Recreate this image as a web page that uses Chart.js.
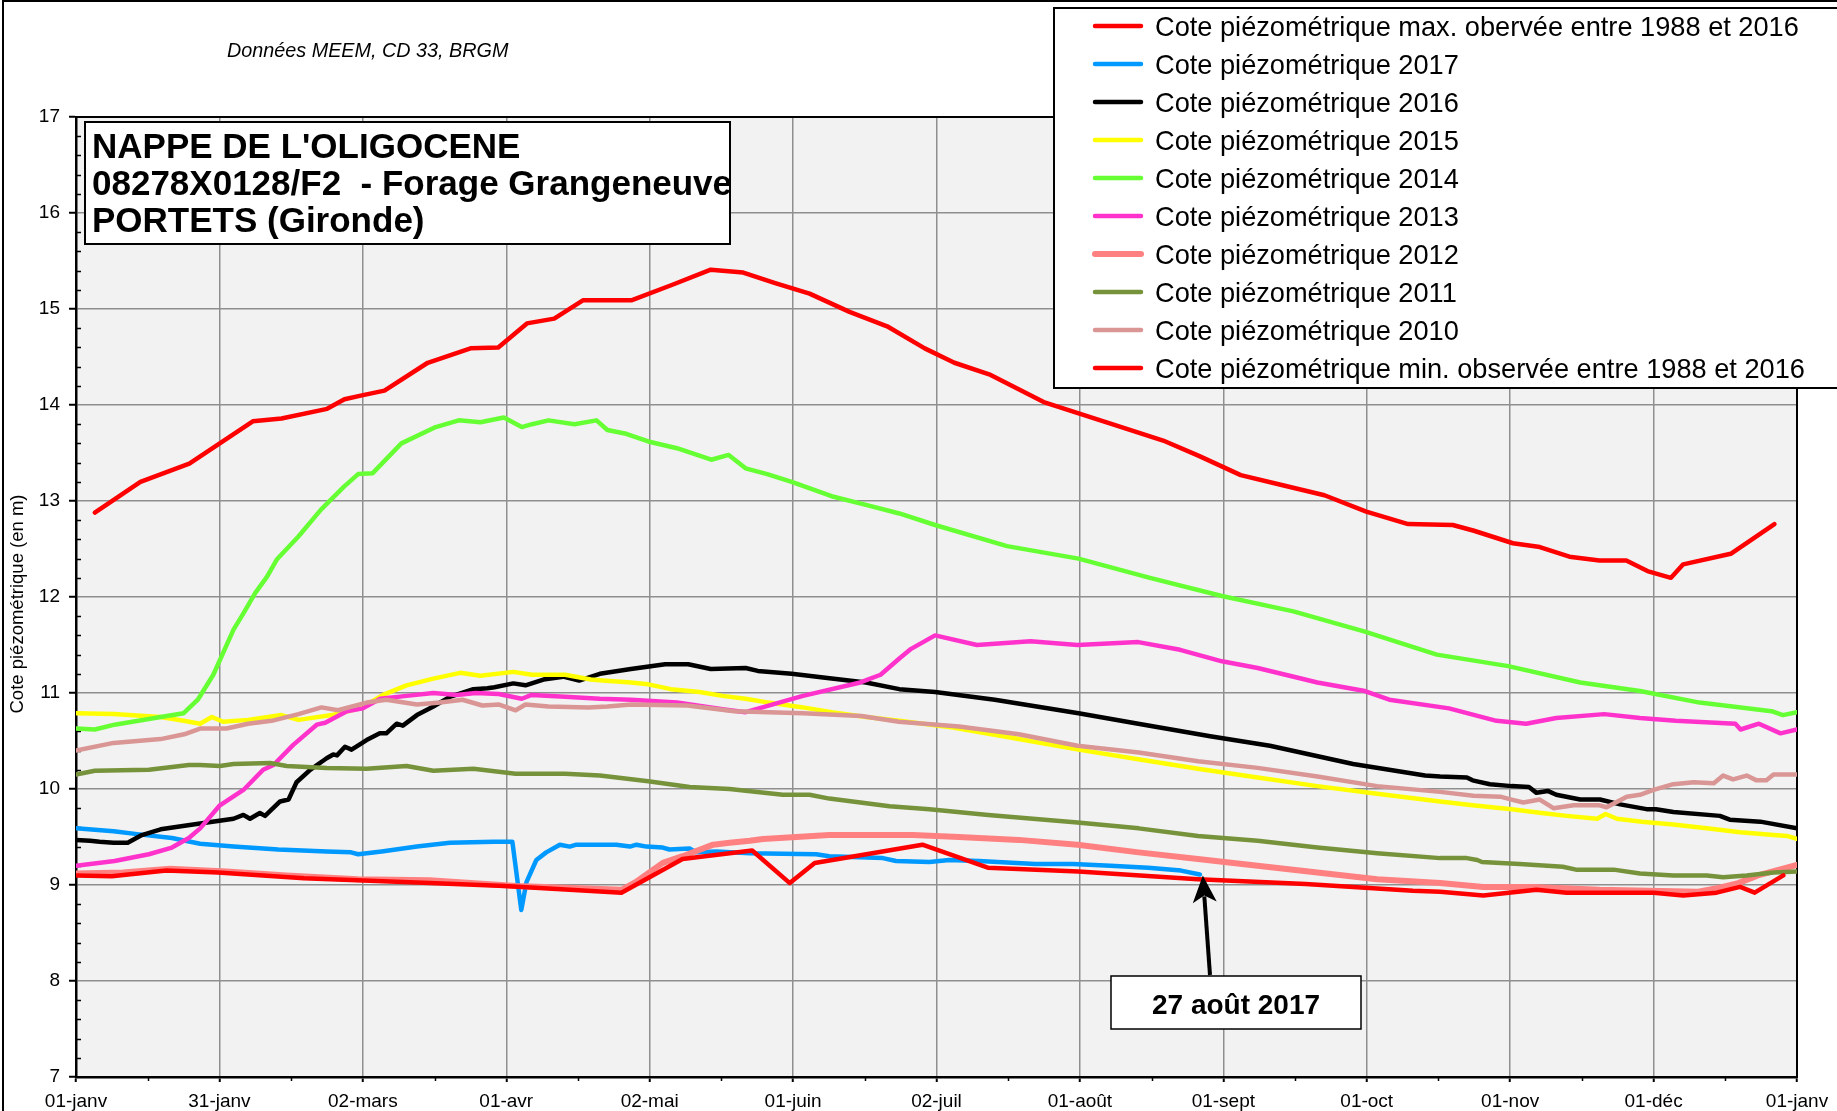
<!DOCTYPE html>
<html lang="fr">
<head>
<meta charset="utf-8">
<title>Nappe de l'Oligocène - Portets</title>
<script src="https://cdn.jsdelivr.net/npm/chart.js@4.4.1/dist/chart.umd.min.js"></script>
<style>
	html, body { margin: 0; padding: 0; background: #fff; }
	#chart { display: block; }
</style>
</head>
<body>
<canvas id="chart" width="1837" height="1111"></canvas>
<script>
// x axis = day of year (0 = 01-janv, 366 = next 01-janv), one tick every 30.5 days
const xTickLabels = ['01-janv', '31-janv', '02-mars', '01-avr', '02-mai', '01-juin', '02-juil', '01-août', '01-sept', '01-oct', '01-nov', '01-déc', '01-janv'];

// values (cote in m)
const joursMax = [4, 13.7, 24.1, 37.6, 43.7, 53.4, 57.1, 60.8, 65.6, 74.8, 83.9, 89.8, 95.9, 101.7, 107.8, 118.1, 126.7, 135, 141.9, 148.7, 156, 164.5, 172.5, 180.5, 186.8, 194.2, 205.8, 213.4, 221, 231.2, 238.8, 247.7, 255.3, 265.5, 274.4, 283.3, 292.8, 297.3, 305.6, 311.3, 317.6, 324, 329.7, 334.2, 339.2, 341.8, 351.9, 361.2];
const coteMax = [12.88, 13.20, 13.39, 13.83, 13.86, 13.96, 14.06, 14.10, 14.15, 14.44, 14.59, 14.60, 14.85, 14.90, 15.09, 15.09, 15.25, 15.41, 15.38, 15.27, 15.16, 14.97, 14.82, 14.59, 14.44, 14.32, 14.03, 13.91, 13.79, 13.63, 13.47, 13.27, 13.18, 13.06, 12.89, 12.76, 12.75, 12.69, 12.56, 12.52, 12.42, 12.38, 12.38, 12.27, 12.20, 12.34, 12.45, 12.76];

const jours2017 = [0, 8, 13, 20.4, 26.4, 33.5, 43, 53.3, 58.5, 60, 65, 72.5, 79.5, 88.9, 92.8, 94.7, 95.8, 97.9, 100, 102.9, 105, 106.4, 114.9, 117.8, 119.2, 121.3, 124.8, 126.2, 130.5, 131.9, 136.2, 143.3, 157.4, 160.2, 171.6, 174.4, 181.5, 185.7, 192, 204, 212, 220, 228, 235, 239];
const cote2017 = [9.59, 9.56, 9.53, 9.49, 9.43, 9.40, 9.37, 9.35, 9.34, 9.32, 9.35, 9.40, 9.44, 9.45, 9.45, 8.74, 9.03, 9.26, 9.34, 9.42, 9.40, 9.42, 9.42, 9.40, 9.42, 9.40, 9.39, 9.37, 9.38, 9.34, 9.35, 9.33, 9.32, 9.30, 9.28, 9.25, 9.24, 9.26, 9.25, 9.22, 9.22, 9.20, 9.18, 9.15, 9.11];

const jours2016 = [0, 3, 5, 8, 11, 14, 18, 22, 26.4, 33.5, 35.6, 37, 39.1, 40.2, 43.4, 45.2, 46.9, 49.8, 53.3, 54.7, 55.5, 57.2, 58.6, 61.8, 64.6, 66, 68.2, 69.5, 72.5, 76, 79.5, 84.5, 87.5, 89, 93, 95.6, 99.4, 103.6, 107, 111.4, 118, 125.3, 130.2, 135, 142.4, 145, 152.2, 160.7, 168, 175.1, 182.7, 195.4, 213.2, 225.9, 241.2, 253.9, 271.6, 286.9, 290.1, 295.8, 297, 300.7, 305.3, 309, 310.6, 313, 314.8, 319.9, 324.1, 328.4, 334, 336, 339.7, 349.6, 351.7, 358.2, 366];
const cote2016 = [9.47, 9.46, 9.45, 9.44, 9.44, 9.52, 9.58, 9.61, 9.64, 9.69, 9.73, 9.69, 9.75, 9.72, 9.87, 9.89, 10.07, 10.20, 10.32, 10.36, 10.35, 10.44, 10.41, 10.51, 10.58, 10.58, 10.68, 10.66, 10.77, 10.86, 10.96, 11.04, 11.05, 11.06, 11.10, 11.08, 11.14, 11.17, 11.13, 11.20, 11.25, 11.30, 11.30, 11.25, 11.26, 11.23, 11.20, 11.15, 11.11, 11.04, 11.01, 10.93, 10.79, 10.68, 10.55, 10.45, 10.26, 10.14, 10.13, 10.12, 10.09, 10.05, 10.03, 10.02, 9.96, 9.98, 9.94, 9.89, 9.89, 9.84, 9.79, 9.79, 9.76, 9.72, 9.68, 9.66, 9.59];

const jours2015 = [0, 8, 18, 22.9, 26.4, 28.9, 31.3, 36.6, 43.7, 47.3, 54.4, 60.4, 65.3, 70.3, 76, 81.7, 86, 93, 97, 104, 109.5, 111.9, 118, 121.7, 126.5, 132.6, 137.5, 142.4, 147.3, 154.6, 160.7, 168, 175.1, 186.5, 200.5, 213.2, 225.9, 238.6, 251.3, 264, 276.7, 290.1, 297, 305.3, 311.7, 317, 323.5, 325.3, 327.7, 333, 339.7, 346.8, 353.9, 361, 364, 366];
const cote2015 = [10.79, 10.78, 10.75, 10.71, 10.68, 10.75, 10.70, 10.72, 10.77, 10.72, 10.77, 10.84, 10.98, 11.08, 11.15, 11.21, 11.18, 11.22, 11.19, 11.19, 11.14, 11.13, 11.11, 11.09, 11.04, 11.01, 10.97, 10.94, 10.90, 10.85, 10.80, 10.75, 10.71, 10.64, 10.52, 10.41, 10.31, 10.21, 10.12, 10.03, 9.95, 9.87, 9.83, 9.79, 9.75, 9.72, 9.69, 9.74, 9.69, 9.66, 9.63, 9.59, 9.55, 9.52, 9.51, 9.48];

const jours2014 = [0, 4, 8.2, 18, 22.9, 25.9, 29.2, 33.5, 35.6, 38.1, 40.6, 42.7, 47.3, 52.1, 57, 60, 63.1, 69.2, 76.5, 81.4, 86, 91, 94.8, 97, 100.5, 106, 110.7, 113, 117, 121.7, 127.8, 135.1, 138.8, 142.4, 147, 152.2, 160.7, 168, 175.1, 182.7, 198, 213.2, 228.4, 243.7, 258.9, 274.1, 289.4, 304.6, 319.9, 332.6, 345.3, 360.6, 363, 366];
const cote2014 = [10.63, 10.62, 10.67, 10.75, 10.79, 10.93, 11.19, 11.66, 11.83, 12.04, 12.21, 12.39, 12.63, 12.91, 13.15, 13.28, 13.29, 13.60, 13.77, 13.84, 13.82, 13.87, 13.77, 13.80, 13.84, 13.80, 13.84, 13.74, 13.70, 13.62, 13.55, 13.43, 13.48, 13.34, 13.28, 13.20, 13.05, 12.96, 12.87, 12.75, 12.53, 12.40, 12.20, 12.01, 11.85, 11.64, 11.40, 11.28, 11.11, 11.02, 10.90, 10.81, 10.77, 10.80];

const jours2013 = [0, 8.2, 15.5, 20.4, 24, 26.4, 30.6, 35.6, 39.8, 42, 46.2, 51.2, 53, 57.6, 61, 64.7, 70.3, 76, 81, 85, 89.9, 94.8, 96.9, 104, 111.4, 118, 127.8, 137.5, 142.4, 154.6, 166.8, 171.1, 175.1, 177.6, 182.7, 191.6, 203, 213, 225.9, 234.8, 243.7, 251.3, 264, 274.1, 279.3, 292, 302.1, 308.4, 314.8, 325, 332.6, 340.2, 352.9, 354, 357.9, 362.5, 366];
const cote2013 = [9.20, 9.25, 9.32, 9.39, 9.49, 9.59, 9.83, 9.99, 10.20, 10.25, 10.46, 10.67, 10.69, 10.81, 10.84, 10.94, 10.97, 11.00, 10.98, 11.00, 10.99, 10.94, 10.98, 10.96, 10.94, 10.93, 10.90, 10.83, 10.80, 10.97, 11.11, 11.19, 11.36, 11.46, 11.60, 11.50, 11.54, 11.50, 11.53, 11.45, 11.33, 11.26, 11.11, 11.02, 10.93, 10.84, 10.71, 10.68, 10.74, 10.78, 10.74, 10.71, 10.68, 10.62, 10.68, 10.58, 10.62];

const jours2012 = [0, 10, 20, 32, 44.8, 60, 75.2, 93.6, 105.8, 116, 119, 124.8, 129, 135.5, 139, 143.3, 146.1, 153.2, 160.2, 171.6, 178, 187.8, 200.5, 213, 226, 238.6, 251.3, 264, 276.7, 290.1, 299.3, 310, 324, 345, 349.3, 353.5, 357.7, 366];
const cote2012 = [9.12, 9.13, 9.17, 9.14, 9.10, 9.06, 9.05, 8.99, 8.97, 8.95, 9.03, 9.23, 9.30, 9.42, 9.44, 9.46, 9.48, 9.50, 9.52, 9.52, 9.52, 9.50, 9.47, 9.42, 9.34, 9.27, 9.20, 9.13, 9.06, 9.02, 8.98, 8.98, 8.95, 8.93, 8.97, 9.02, 9.10, 9.21];

const jours2011 = [0, 4, 15.5, 24, 26.4, 30.6, 33.5, 41.3, 44.8, 53.3, 61.8, 70.3, 76, 84.5, 93.5, 104, 111.4, 121.7, 130.5, 139, 150.3, 156, 160.2, 173, 181.5, 194, 213, 226, 238.6, 251.3, 264, 276.7, 290.1, 295.8, 298, 299, 307, 316.2, 319, 327, 332.6, 339.7, 346.8, 350.3, 355.3, 361, 366];
const cote2011 = [10.15, 10.19, 10.20, 10.25, 10.25, 10.24, 10.26, 10.27, 10.24, 10.22, 10.21, 10.24, 10.19, 10.21, 10.16, 10.16, 10.14, 10.08, 10.02, 10.00, 9.94, 9.94, 9.90, 9.82, 9.79, 9.73, 9.65, 9.59, 9.51, 9.46, 9.39, 9.33, 9.28, 9.28, 9.26, 9.24, 9.22, 9.19, 9.16, 9.16, 9.12, 9.10, 9.10, 9.08, 9.10, 9.13, 9.14];

const jours2010 = [0, 8, 18, 23, 26.4, 32, 36.6, 41.6, 47.3, 52.2, 55.7, 61.8, 66, 72.5, 77.4, 82.2, 86.4, 90, 93.5, 95.6, 100.5, 109, 113, 118, 130, 140, 154.6, 167, 175, 187.8, 200.5, 213, 226, 238.6, 251.3, 264, 276.7, 290.1, 297.2, 302.9, 305.3, 307.8, 311.3, 314.2, 318.5, 324, 325.5, 329.8, 332.6, 335.5, 339.7, 344, 348.3, 350.3, 352.4, 355.3, 357.4, 359.5, 361, 366];
const cote2010 = [10.40, 10.48, 10.52, 10.57, 10.63, 10.63, 10.68, 10.71, 10.78, 10.85, 10.82, 10.90, 10.93, 10.88, 10.90, 10.93, 10.87, 10.88, 10.82, 10.88, 10.86, 10.85, 10.86, 10.88, 10.87, 10.81, 10.79, 10.76, 10.70, 10.65, 10.57, 10.45, 10.38, 10.29, 10.22, 10.13, 10.03, 9.97, 9.93, 9.92, 9.89, 9.86, 9.89, 9.80, 9.83, 9.83, 9.81, 9.92, 9.94, 9.99, 10.05, 10.07, 10.06, 10.14, 10.10, 10.14, 10.09, 10.09, 10.15, 10.15];

const joursMin = [0, 7.6, 19.2, 30.2, 48.5, 75.2, 91.2, 116, 129, 143.8, 151.8, 157.1, 180, 193.9, 213.2, 238.6, 261.5, 284.3, 290.1, 299.3, 310.6, 317, 335.5, 341.8, 348.9, 353.9, 357, 363.1];
const coteMin = [9.10, 9.09, 9.15, 9.13, 9.07, 9.02, 8.99, 8.92, 9.27, 9.36, 9.02, 9.23, 9.42, 9.18, 9.14, 9.06, 9.01, 8.94, 8.93, 8.89, 8.95, 8.92, 8.92, 8.89, 8.92, 8.98, 8.92, 9.10];

const seriesLabels = [
	'Cote piézométrique max. obervée entre 1988 et 2016',
	'Cote piézométrique 2017',
	'Cote piézométrique 2016',
	'Cote piézométrique 2015',
	'Cote piézométrique 2014',
	'Cote piézométrique 2013',
	'Cote piézométrique 2012',
	'Cote piézométrique 2011',
	'Cote piézométrique 2010',
	'Cote piézométrique min. observée entre 1988 et 2016',
];
const seriesDays = [joursMax, jours2017, jours2016, jours2015, jours2014, jours2013, jours2012, jours2011, jours2010, joursMin];
const seriesValues = [coteMax, cote2017, cote2016, cote2015, cote2014, cote2013, cote2012, cote2011, cote2010, coteMin];

const titleLines = ['NAPPE DE L\'OLIGOCENE', '08278X0128/F2  - Forage Grangeneuve', 'PORTETS (Gironde)'];
const sourceNote = 'Données MEEM, CD 33, BRGM';
const yAxisTitle = 'Cote piézométrique (en m)';
const calloutText = '27 août 2017';

// styles
const seriesColors = ['#ff0000', '#0099ff', '#000000', '#ffff00', '#66ff33', '#ff33cc', '#ff8080', '#76933c', '#d99694', '#ff0000'];
const seriesWidths = [4.5, 4.5, 4.5, 4.5, 4.5, 4.5, 6, 4.5, 4.5, 4.5];
const FONT = '"Liberation Sans", Arial, sans-serif';

Chart.defaults.font.family = FONT;
Chart.defaults.color = '#000';

let datasets = seriesLabels.map((label, i) => ({
	label,
	data: seriesDays[i].map((d, k) => ({ x: d, y: seriesValues[i][k] })),
	borderColor: seriesColors[i],
	backgroundColor: seriesColors[i],
	borderWidth: seriesWidths[i],
	borderJoinStyle: 'round',
	borderCapStyle: 'round',
	pointRadius: 0,
	tension: 0,
	fill: false,
	// later series on top, like the spreadsheet
	order: seriesLabels.length - 1 - i,
}));

// plot background, minor ticks, frame, boxes
let plotDecor = {
	id: 'plotDecor',
	beforeDraw (chart) {
		let { ctx, chartArea: a } = chart;
		ctx.save();
		ctx.fillStyle = '#fff';
		ctx.fillRect(0, 0, chart.width, chart.height);
		ctx.fillStyle = '#f2f2f2';
		ctx.fillRect(a.left, a.top, a.right - a.left, a.bottom - a.top);
		ctx.restore();
	},
	beforeDatasetsDraw (chart) {
		let { ctx, chartArea: a, scales: { x, y } } = chart;
		ctx.save();
		ctx.strokeStyle = '#000';
		ctx.lineWidth = 1.5;
		ctx.beginPath();
		for (let i = 36; i < 85; i++) {
			if (i % 5 === 0) continue;
			let py = Math.round(y.getPixelForValue(i / 5)) + 0.5;
			ctx.moveTo(a.left, py);
			ctx.lineTo(a.left + 5, py);
		}
		for (let k = 0; k < 12; k++) {
			let px = Math.round(x.getPixelForValue(15.25 + 30.5 * k)) + 0.5;
			ctx.moveTo(px, a.bottom);
			ctx.lineTo(px, a.bottom + 4);
		}
		ctx.stroke();
		ctx.lineWidth = 2;
		ctx.strokeRect(a.left, a.top, a.right - a.left, a.bottom - a.top);
		ctx.restore();
	},
	afterDraw (chart) {
		let { ctx, scales: { x, y } } = chart;
		ctx.save();

		// outer frame
		ctx.strokeStyle = '#000';
		ctx.lineWidth = 2;
		ctx.beginPath();
		ctx.moveTo(3, chart.height);
		ctx.lineTo(3, 1);
		ctx.lineTo(chart.width, 1);
		ctx.stroke();

		// source
		ctx.fillStyle = '#000';
		ctx.font = `italic 19.8px ${FONT}`;
		ctx.textAlign = 'left';
		ctx.textBaseline = 'alphabetic';
		ctx.fillText(sourceNote, 227, 57);

		// y axis title
		ctx.save();
		ctx.translate(17.5, 604);
		ctx.rotate(-Math.PI / 2);
		ctx.font = `18.5px ${FONT}`;
		ctx.textAlign = 'center';
		ctx.textBaseline = 'middle';
		ctx.fillText(yAxisTitle, 0, 0);
		ctx.restore();

		// title box
		ctx.fillStyle = '#fff';
		ctx.fillRect(85, 122, 645, 122);
		ctx.lineWidth = 2;
		ctx.strokeRect(85, 122, 645, 122);
		ctx.fillStyle = '#000';
		ctx.font = `bold 35px ${FONT}`;
		titleLines.forEach((t, i) => ctx.fillText(t, 92, 158 + 37 * i));

		// legend box (runs off the right edge)
		ctx.fillStyle = '#fff';
		ctx.fillRect(1054, 8, 800, 380);
		ctx.strokeRect(1054, 8, 800, 380);
		ctx.font = `27.2px ${FONT}`;
		chart.data.datasets.forEach((ds, i) => {
			let cy = 26 + 38 * i;
			ctx.strokeStyle = ds.borderColor;
			ctx.lineWidth = ds.borderWidth;
			ctx.lineCap = 'round';
			ctx.beginPath();
			ctx.moveTo(1095, cy);
			ctx.lineTo(1141, cy);
			ctx.stroke();
			ctx.fillStyle = '#000';
			ctx.fillText(ds.label, 1155, cy + 9.5);
		});

		// callout for the last 2017 reading
		let tipX = x.getPixelForValue(jours2017[jours2017.length - 1]) + 3;
		let tipY = y.getPixelForValue(cote2017[cote2017.length - 1]) + 1;
		let tailX = 1210, tailY = 975;
		let ang = Math.atan2(tipY - tailY, tipX - tailX);
		let headLen = 27, headHalf = 12;
		let bx = tipX - headLen * Math.cos(ang), by = tipY - headLen * Math.sin(ang);
		ctx.strokeStyle = '#000';
		ctx.lineWidth = 4;
		ctx.lineCap = 'butt';
		ctx.beginPath();
		ctx.moveTo(tailX, tailY);
		ctx.lineTo(bx + 6 * Math.cos(ang), by + 6 * Math.sin(ang));
		ctx.stroke();
		ctx.fillStyle = '#000';
		ctx.beginPath();
		ctx.moveTo(tipX, tipY);
		ctx.lineTo(bx - headHalf * Math.sin(ang), by + headHalf * Math.cos(ang));
		ctx.lineTo(bx + 7 * Math.cos(ang), by + 7 * Math.sin(ang));
		ctx.lineTo(bx + headHalf * Math.sin(ang), by - headHalf * Math.cos(ang));
		ctx.closePath();
		ctx.fill();

		ctx.fillStyle = '#fff';
		ctx.fillRect(1111, 976, 250, 53);
		ctx.lineWidth = 1.5;
		ctx.strokeRect(1111, 976, 250, 53);
		ctx.fillStyle = '#000';
		ctx.font = `bold 28px ${FONT}`;
		ctx.textAlign = 'center';
		ctx.fillText(calloutText, 1236, 1014);

		ctx.restore();
	},
};

let chart = new Chart(document.getElementById('chart'), {
	type: 'line',
	data: { datasets },
	options: {
		responsive: false,
		animation: false,
		devicePixelRatio: 1,
		layout: { padding: { top: 117, right: 40, bottom: 0, left: 0 } },
		plugins: {
			legend: { display: false },
			title: { display: false },
			tooltip: { enabled: false },
		},
		scales: {
			x: {
				type: 'linear',
				min: 0,
				max: 366,
				afterFit: (scale) => { scale.height = 34; },
				ticks: {
					stepSize: 30.5,
					autoSkip: false,
					maxRotation: 0,
					padding: 8,
					font: { size: 19 },
					color: '#000',
					callback: (v) => xTickLabels[Math.round(v / 30.5)] ?? '',
				},
				grid: { color: '#8f8f8f', lineWidth: 1.5, tickLength: 5, tickColor: '#000', tickWidth: 2 },
				border: { color: '#000', width: 2.5 },
			},
			y: {
				min: 7,
				max: 17,
				afterFit: (scale) => { scale.width = 76; },
				ticks: { stepSize: 1, padding: 9, font: { size: 19 }, color: '#000' },
				grid: { color: '#8f8f8f', lineWidth: 1.5, tickLength: 7, tickColor: '#000', tickWidth: 2 },
				border: { color: '#000', width: 2.5 },
			},
		},
	},
	plugins: [ plotDecor ],
});
</script>
</body>
</html>
